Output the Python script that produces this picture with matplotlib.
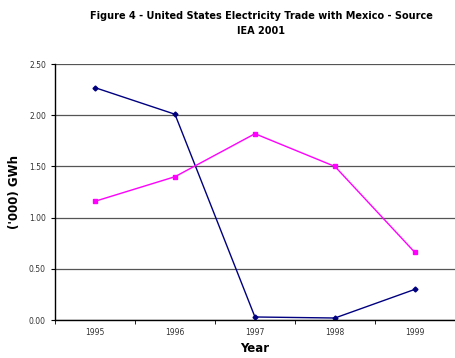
import numpy as np
import matplotlib.pyplot as plt

years = ["1995", "1996", "1997", "1998", "1999"]
exports = [2.27, 2.01, 0.03, 0.02, 0.30]
imports = [1.16, 1.40, 1.82, 1.50, 0.66]

fig = plt.figure(figsize=(4.56, 3.58), dpi=100)
ax = fig.add_axes([0.1206, 0.106, 0.877, 0.715])

x = np.arange(len(years))
ax.plot(x, exports, color="#000080", marker="D", markersize=2.5, linewidth=1)
ax.plot(x, imports, color="#FF00FF", marker="s", markersize=3.5, linewidth=1)

ax.set_xlim(-0.5, 4.5)
ax.set_ylim(0, 2.5)
ax.set_yticks(np.arange(0, 2.51, 0.5))
ax.set_yticklabels(["%.2f" % v for v in np.arange(0, 2.51, 0.5)])
ax.set_xticks(x)
ax.set_xticklabels(years)
ax.set_xticks(np.arange(-0.5, 4.6, 1), minor=True)
ax.tick_params(axis="x", which="major", length=0, labelsize=5.5, pad=6, colors="#333333")
ax.tick_params(axis="x", which="minor", length=3, direction="out")
ax.tick_params(axis="y", length=3, labelsize=5.5, colors="#333333")
ax.tick_params(axis="both", color="black")

ax.grid(axis="y", color="#555555", linewidth=0.9)
ax.set_axisbelow(True)
for s in ["top", "right"]:
    ax.spines[s].set_visible(False)
ax.spines["left"].set_linewidth(1.0)
ax.spines["bottom"].set_linewidth(1.0)

ax.set_xlabel("Year", fontsize=8.5, fontweight="bold", labelpad=3)
ax.set_ylabel("('000) GWh", fontsize=8.5, fontweight="bold", labelpad=6)
fig.text(0.573, 0.935, "Figure 4 - United States Electricity Trade with Mexico - Source\nIEA 2001",
         ha="center", va="center", fontsize=7, fontweight="bold", linespacing=1.6)

fig.savefig("out.png", dpi=100)
